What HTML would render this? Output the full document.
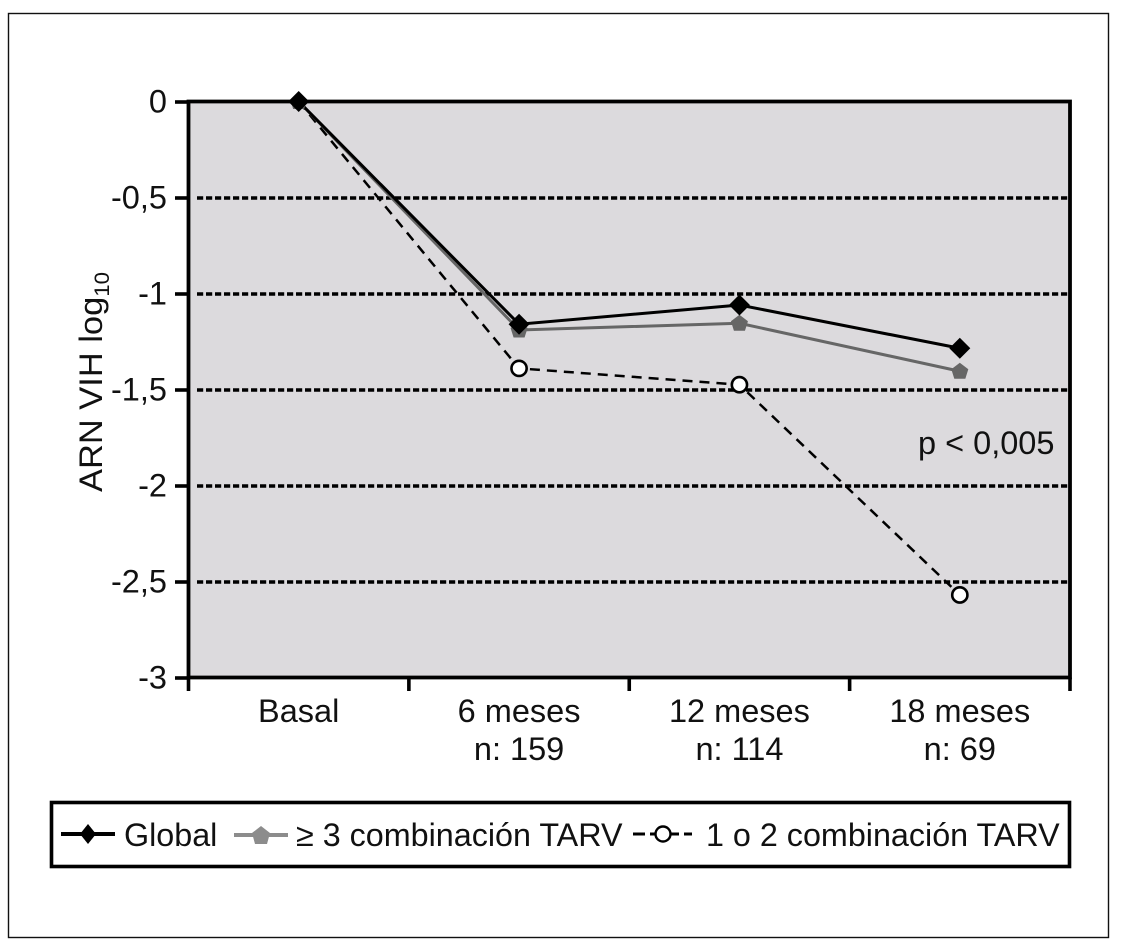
<!DOCTYPE html>
<html lang="es">
<head>
<meta charset="utf-8">
<title>ARN VIH log10</title>
<style>
html,body{margin:0;padding:0;background:#fff;}
svg{display:block;}
text{font-family:"Liberation Sans",sans-serif;fill:#111;}
</style>
</head>
<body>
<svg id="chart" xmlns="http://www.w3.org/2000/svg" width="1128" height="952" viewBox="0 0 1128 952">
  <rect x="8.5" y="13.5" width="1100" height="924" fill="#fff" stroke="#111" stroke-width="1.4"/>
  <rect id="plot-bg" fill="#dcdadd"/>
  <g id="grid"></g>
  <g id="axes"></g>
  <g id="series"></g>
  <text transform="translate(102,492) rotate(-90)" font-size="32.5" textLength="220" lengthAdjust="spacingAndGlyphs">ARN VIH log<tspan font-size="21" dy="7">10</tspan></text>
  <text x="918" y="454" font-size="32.5">p &lt; 0,005</text>
  <g>
    <rect x="51.5" y="802.5" width="1018" height="64" fill="#fff" stroke="#000" stroke-width="3.6"/>
    <g>
      <line x1="61" y1="834" x2="115" y2="834" stroke="#000" stroke-width="4"/>
      <polygon points="88,824 96,834 88,844 80,834" fill="#000"/>
      <text x="124" y="846" font-size="32.3">Global</text>
    </g>
    <g>
      <line x1="234" y1="835" x2="288" y2="835" stroke="#8c8c8c" stroke-width="4"/>
      <polygon points="261,826 270,833 267,844 255,844 252,833" fill="#8c8c8c"/>
      <text x="296" y="846" font-size="32.3">≥ 3 combinación TARV</text>
    </g>
    <g>
      <line x1="633" y1="834" x2="692" y2="834" stroke="#000" stroke-width="3" stroke-dasharray="12 5"/>
      <circle cx="663" cy="834" r="7.5" fill="#fff" stroke="#000" stroke-width="2.4"/>
      <text x="706" y="846" font-size="32.3">1 o 2 combinación TARV</text>
    </g>
  </g>
</svg>
<script>
const categories = ["Basal", "6 meses", "12 meses", "18 meses"];
const sampleLabels = ["", "n: 159", "n: 114", "n: 69"];
const yTicks = [0, -0.5, -1, -1.5, -2, -2.5, -3];
const yTickLabels = ["0", "-0,5", "-1", "-1,5", "-2", "-2,5", "-3"];
const globalValues = [0, -1.16, -1.06, -1.285];
const threeComboValues = [0, -1.19, -1.155, -1.405];
const oneTwoComboValues = [0, -1.39, -1.475, -2.57];

const NS = "http://www.w3.org/2000/svg";
const plotLeft = 188.5, plotRight = 1070, plotTop = 101.5, plotBottom = 677.5;
const yMax = 0, yMin = -3;
const labelSize = 32.5;
function yScale(v) { return plotTop + (yMax - v) / (yMax - yMin) * (plotBottom - plotTop); }
function bandWidth() { return (plotRight - plotLeft) / categories.length; }
function xScale(i) { return plotLeft + bandWidth() * (i + 0.5); }
function make(parent, tag, attrs) {
  const el = document.createElementNS(NS, tag);
  for (const k in attrs) el.setAttribute(k, attrs[k]);
  parent.appendChild(el);
  return el;
}

const bg = document.getElementById("plot-bg");
bg.setAttribute("x", plotLeft);
bg.setAttribute("y", plotTop);
bg.setAttribute("width", plotRight - plotLeft);
bg.setAttribute("height", plotBottom - plotTop);

const grid = document.getElementById("grid");
yTicks.forEach(function (t) {
  if (t === yMax || t === yMin) return;
  const g = make(grid, "line", {x1: plotLeft + 8.5, x2: plotRight, y1: yScale(t) + 0.5, y2: yScale(t) + 0.5, stroke: "#000", "stroke-width": 3.6, "stroke-dasharray": "6.2 2.8"});
  
  
});

const axes = document.getElementById("axes");
const frame = make(axes, "path", {d: "M" + plotLeft + " " + plotTop + "H" + plotRight + "V" + plotBottom + "H" + plotLeft + "Z", fill: "none", stroke: "#000", "stroke-width": 3.8});



yTicks.forEach(function (t, i) {
  const y = yScale(t);
  const tick = make(axes, "line", {x1: 175, x2: plotLeft, y1: y + 0.5, y2: y + 0.5, stroke: "#000", "stroke-width": 3.6});
  
  
  const label = make(axes, "text", {x: 167, y: y + 11, "font-size": labelSize, "text-anchor": "end"});
  label.textContent = yTickLabels[i];
  
  
});

for (let i = 0; i <= categories.length; i++) {
  const x = plotLeft + bandWidth() * i;
  const tick = make(axes, "line", {x1: x, x2: x, y1: plotBottom, y2: 691, stroke: "#000", "stroke-width": 3.6});
  
  
}
categories.forEach(function (c, i) {
  const label = make(axes, "text", {x: xScale(i), y: 722, "font-size": labelSize, "text-anchor": "middle"});
  label.textContent = c;
  
  
  if (sampleLabels[i]) {
    const n = make(axes, "text", {x: xScale(i), y: 760, "font-size": labelSize, "text-anchor": "middle"});
    n.textContent = sampleLabels[i];
    
    
  }
});

const seriesLayer = document.getElementById("series");
function points(values) {
  return values.map(function (v, i) { return xScale(i) + "," + yScale(v); }).join(" ");
}

const line3 = make(seriesLayer, "polyline", {points: points(oneTwoComboValues), fill: "none", stroke: "#000", "stroke-width": 2.5, "stroke-dasharray": "10 7"});


const line2 = make(seriesLayer, "polyline", {points: points(threeComboValues), fill: "none", stroke: "#666", "stroke-width": 3});


const line1 = make(seriesLayer, "polyline", {points: points(globalValues), fill: "none", stroke: "#000", "stroke-width": 3});



oneTwoComboValues.forEach(function (v, i) {
  if (i === 0) return;
  const m = make(seriesLayer, "circle", {cx: xScale(i), cy: yScale(v), r: 7.6, fill: "#fff", stroke: "#000", "stroke-width": 2.6});
  
  
});
threeComboValues.forEach(function (v, i) {
  const x = xScale(i), y = yScale(v);
  const m = make(seriesLayer, "polygon", {points: [[x, y - 8.5], [x + 8.5, y - 2], [x + 5.5, y + 7.5], [x - 5.5, y + 7.5], [x - 8.5, y - 2]].map(function (p) { return p.join(","); }).join(" "), fill: "#666"});
  
  
});
globalValues.forEach(function (v, i) {
  const x = xScale(i), y = yScale(v);
  const m = make(seriesLayer, "polygon", {points: [[x, y - 10.5], [x + 10.5, y], [x, y + 10.5], [x - 10.5, y]].map(function (p) { return p.join(","); }).join(" "), fill: "#000"});
  
  
});
</script>
</body>
</html>
